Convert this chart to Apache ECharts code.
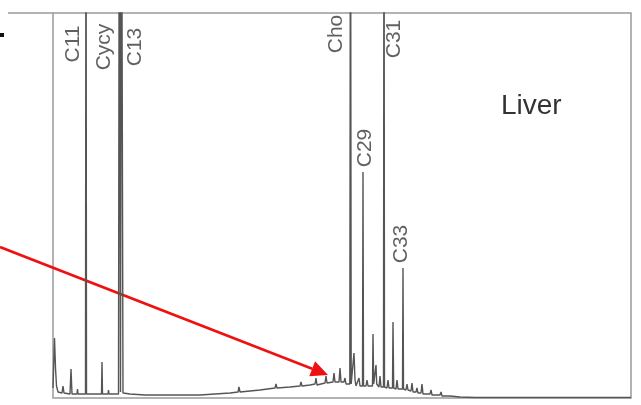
<!DOCTYPE html>
<html>
<head>
<meta charset="utf-8">
<script src="https://cdn.jsdelivr.net/npm/echarts@6/dist/echarts.min.js"></script>
<style>
  html, body { margin: 0; padding: 0; background: #fff; }
  #chart { width: 641px; height: 405px; }
</style>
</head>
<body>
<div id="chart"></div>
<script>
// retention position (arbitrary units) and detector signal
const rt = [
  53, 54.5, 55.5, 56.5, 58, 62, 63, 64, 70, 71, 72, 77, 77.5, 78,
  85.5, 86, 86.5, 95, 101.5, 102, 102.5, 108, 108.5, 109,
  118.5, 119.3, 120.5, 121.5, 123, 130, 145, 160, 200, 230,
  238, 239, 240, 260, 275, 276, 277, 290, 300, 301, 302, 310,
  315, 316, 317, 325, 326, 327, 333, 334, 335, 339, 340, 341,
  344, 345, 346, 349.8, 350.5, 351.2, 353, 354, 355, 356, 358, 359, 360,
  362.5, 363, 363.5, 366, 367, 368, 372.5, 373, 373.7, 375.5, 376, 376.7,
  379, 380, 381, 383.5, 384, 384.5, 387, 388, 389, 392.5, 393, 393.7,
  396, 397, 398, 402.5, 403, 403.5, 406, 407, 408, 411, 412, 413,
  416, 417, 418, 421, 422, 423, 430, 431, 432, 440, 441, 442,
  450, 460, 475, 631
]
const signal = [
  10, 60, 30, 12, 6, 5, 12, 5, 4, 29, 4, 4, 9, 4,
  4, 600, 4, 4, 4, 36, 4, 4, 8, 4,
  4, 600, 6, 600, 5, 4, 3, 3, 3, 5,
  6, 11, 6, 8, 10, 14, 10, 11, 12, 16, 12, 13,
  14, 20, 13, 15, 22, 15, 16, 25, 16, 16, 30, 16,
  16, 20, 14, 14, 600, 14, 15, 45, 18, 12, 14, 20, 12,
  12, 226, 12, 12, 18, 12, 12, 64, 14, 12, 33, 14,
  11, 22, 11, 11, 600, 11, 10, 18, 10, 10, 76, 10,
  9, 18, 9, 9, 130, 9, 8, 14, 8, 7, 15, 6,
  6, 10, 5, 5, 14, 4, 4, 8, 3, 3, 6, 2,
  2, 1, 0.5, 0.5
]

// peak labels: name, position along the trace, height where the text sits
const peakNames = ['C11', 'Cycy', 'C13', 'Cho', 'C29', 'C31', 'C33']
const peakLabelX = [73, 104, 135, 336, 365, 394, 401]
const peakLabelY = [354, 351, 351, 364, 250, 359, 154]

const chart = echarts.init(document.getElementById('chart'))

const tip = [328, 375]
const tail = [0, 247]
const dx = tip[0] - tail[0], dy = tip[1] - tail[1]
const len = Math.sqrt(dx * dx + dy * dy)
const ux = dx / len, uy = dy / len
const headLen = 17, headHalf = 8
const bx = tip[0] - ux * headLen, by = tip[1] - uy * headLen

chart.setOption({
  animation: false,
  grid: {
    left: 53,
    top: 13,
    width: 578,
    height: 385,
    show: true,
    borderColor: '#9a9a9a',
    borderWidth: 1.5
  },
  xAxis: {
    type: 'value',
    min: 53,
    max: 631,
    show: false
  },
  yAxis: {
    type: 'value',
    min: 0,
    max: 385,
    show: false
  },
  series: [{
    type: 'line',
    data: rt.map((v, i) => [v, signal[i]]),
    showSymbol: false,
    symbol: 'none',
    clip: true,
    lineStyle: { color: '#555', width: 1.4 }
  }, {
    type: 'scatter',
    symbolSize: 0,
    data: peakNames.map((n, i) => ({ name: n, value: [peakLabelX[i], peakLabelY[i]] })),
    label: {
      show: true,
      position: 'inside',
      formatter: '{b}',
      rotate: 90,
      align: 'center',
      verticalAlign: 'middle',
      fontFamily: 'Liberation Sans',
      fontSize: 21,
      color: '#3a3a3a'
    }
  }],
  graphic: [{
    type: 'line',
    shape: { x1: 8, y1: 13, x2: 53, y2: 13 },
    style: { stroke: '#9a9a9a', lineWidth: 1.5 }
  }, {
    type: 'rect',
    shape: { x: 0, y: 33, width: 4, height: 4 },
    style: { fill: '#111' }
  }, {
    type: 'text',
    left: 501,
    top: 92,
    style: {
      text: 'Liver',
      font: '28px "Liberation Sans"',
      fill: '#333'
    }
  }, {
    type: 'line',
    shape: { x1: tail[0], y1: tail[1], x2: bx, y2: by },
    style: { stroke: '#ee1111', lineWidth: 2.6 }
  }, {
    type: 'polygon',
    shape: {
      points: [
        tip,
        [bx - uy * headHalf, by + ux * headHalf],
        [bx + uy * headHalf, by - ux * headHalf]
      ]
    },
    style: { fill: '#ee1111' }
  }]
})
</script>
</body>
</html>
